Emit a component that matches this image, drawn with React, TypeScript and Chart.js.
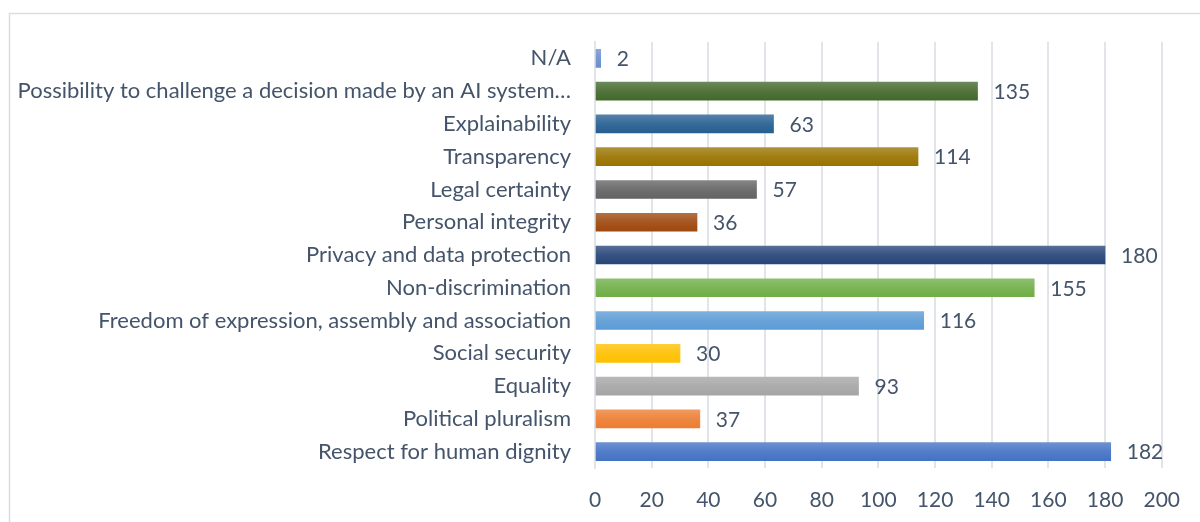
import React, { useEffect, useRef } from "react";
import { Chart, registerables } from "chart.js";

Chart.register(...registerables);

const categories = [
  "N/A",
  "Possibility to challenge a decision made by an AI system…",
  "Explainability",
  "Transparency",
  "Legal certainty",
  "Personal integrity",
  "Privacy and data protection",
  "Non-discrimination",
  "Freedom of expression, assembly and association",
  "Social security",
  "Equality",
  "Political pluralism",
  "Respect for human dignity",
];

const values = [2, 135, 63, 114, 57, 36, 180, 155, 116, 30, 93, 37, 182];

const barColors = [
  "#698ED0",
  "#43682B",
  "#255E91",
  "#997300",
  "#636363",
  "#9E480E",
  "#264478",
  "#70AD47",
  "#5B9BD5",
  "#FFC000",
  "#A5A5A5",
  "#ED7D31",
  "#4472C4",
];

const xTicks = [0, 20, 40, 60, 80, 100, 120, 140, 160, 180, 200];

const TEXT = "#44546A";
const FONT = "Lato";
const BAR_H = 18;

function lighten(hex: string, amt: number): string {
  const n = parseInt(hex.slice(1), 16);
  const r = (n >> 16) & 255, g = (n >> 8) & 255, b = n & 255;
  const f = (c: number) => Math.round(c + (255 - c) * amt);
  return `rgb(${f(r)},${f(g)},${f(b)})`;
}

const borderPlugin = {
  id: "outerBorder",
  beforeDraw(chart: any) {
    const ctx = chart.ctx;
    ctx.save();
    ctx.strokeStyle = "#D9DDE3";
    ctx.lineWidth = 1.5;
    ctx.beginPath();
    ctx.moveTo(9.5, chart.height);
    ctx.lineTo(9.5, 13.5);
    ctx.lineTo(chart.width, 13.5);
    ctx.stroke();
    ctx.restore();
  },
};

const labelPlugin = {
  id: "valueLabels",
  afterDatasetsDraw(chart: any) {
    const ctx = chart.ctx;
    const meta = chart.getDatasetMeta(0);
    ctx.save();
    ctx.font = `21px ${FONT}`;
    ctx.fillStyle = TEXT;
    ctx.textAlign = "left";
    ctx.textBaseline = "middle";
    meta.data.forEach((el: any, i: number) => {
      ctx.fillText(String(values[i]), el.x + 16, el.y + 1);
    });
    ctx.restore();
  },
};

export default function App() {
  const ref = useRef<HTMLCanvasElement | null>(null);

  useEffect(() => {
    if (!ref.current) return;
    const chart = new Chart(ref.current, {
      type: "bar",
      data: {
        labels: categories,
        datasets: [
          {
            data: values,
            barThickness: BAR_H,
            backgroundColor: (c: any) => {
              const chartObj = c.chart;
              const ys = chartObj.scales?.y;
              const base = barColors[c.dataIndex] || "#4472C4";
              if (!ys || c.dataIndex === undefined) return base;
              const yc = ys.getPixelForValue(c.dataIndex);
              if (!Number.isFinite(yc)) return base;
              const g = chartObj.ctx.createLinearGradient(0, yc - BAR_H / 2, 0, yc + BAR_H / 2);
              g.addColorStop(0, lighten(base, 0.22));
              g.addColorStop(0.5, lighten(base, 0.08));
              g.addColorStop(1, base);
              return g;
            },
            borderWidth: 0,
          },
        ],
      },
      options: {
        indexAxis: "y",
        responsive: false,
        animation: false,
        layout: { padding: { top: 42, right: 34, left: 0, bottom: 0 } },
        plugins: {
          legend: { display: false },
          tooltip: { enabled: false },
        },
        scales: {
          x: {
            min: 0,
            max: 200,
            afterBuildTicks: (s: any) => {
              s.ticks = xTicks.map((v) => ({ value: v }));
            },
            afterFit: (s: any) => {
              s.height = 54;
            },
            grid: {
              color: "#E1E5EA",
              lineWidth: 2,
              drawTicks: false,
            },
            border: { display: false },
            ticks: {
              padding: 20,
              color: TEXT,
              font: { family: FONT, size: 21 },
            },
          },
          y: {
            afterFit: (s: any) => {
              s.width = 595;
            },
            grid: { display: false, drawTicks: false },
            border: { display: true, color: "#E1E5EA", width: 2 },
            ticks: {
              padding: 24,
              color: TEXT,
              font: { family: FONT, size: 22 },
              autoSkip: false,
            },
          },
        },
      },
      plugins: [borderPlugin, labelPlugin],
    } as any);
    return () => chart.destroy();
  }, []);

  return (
    <div style={{ position: "fixed", left: 0, top: 0, width: 1200, height: 522, background: "#fff" }}>
      <canvas ref={ref} width={1200} height={522} style={{ width: 1200, height: 522, display: "block" }} />
    </div>
  );
}
